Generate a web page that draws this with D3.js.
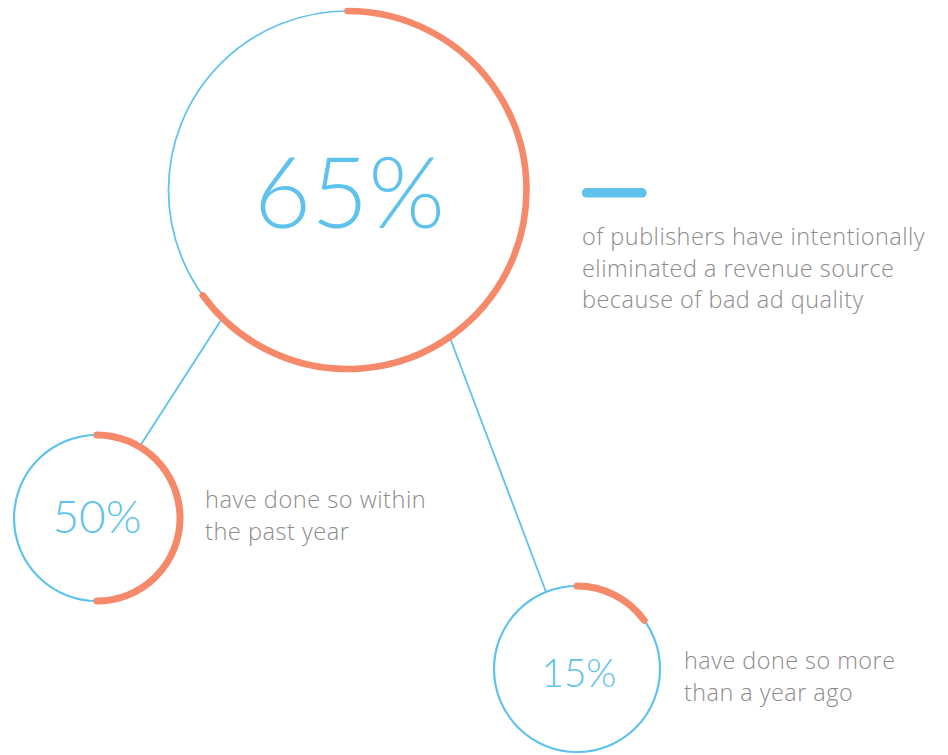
<!DOCTYPE html>
<html>
<head>
<meta charset="utf-8">
<script src="https://cdn.jsdelivr.net/npm/d3@7"></script>
<style>
  html, body { margin: 0; padding: 0; background: #fff; }
  svg { display: block; }
</style>
</head>
<body>
<svg id="chart" width="948" height="755"></svg>
<script>
// Shares of publishers who dropped a revenue source over ad quality
const labels = ["65%", "50%", "15%"];
const values = [65, 50, 15];
const captions = [
  ["of publishers have intentionally", "eliminated a revenue source", "because of bad ad quality"],
  ["have done so within", "the past year"],
  ["have done so more", "than a year ago"]
];

const BLUE = "#5fc2ec";
const ORANGE = "#f5896a";
const GREY = "#8c8c8c";
const NUM_FONT = "Lato, 'Open Sans', sans-serif";
const TXT_FONT = "'Open Sans', Lato, sans-serif";

const svg = d3.select("#chart");

// Gauge layout: centre, radius, stroke widths, number width and baseline
const gauges = [
  { cx: 347.5, cy: 190, r: 179, ring: 1.7, arc: 6.6, w: 191, base: 228, x: 349.5 },
  { cx: 97,    cy: 518, r: 83,  ring: 2.2, arc: 7,   w: 89,  base: 533, x: 97 },
  { cx: 577,   cy: 669, r: 83,  ring: 2.2, arc: 7,   w: 75,  base: 687, x: 579 }
];

// Percent -> angle (clockwise from 12 o'clock)
const angle = d3.scaleLinear().domain([0, 100]).range([0, 2 * Math.PI]);

function pointAt(g, deg) {
  const a = deg * Math.PI / 180;
  return [g.cx + g.r * Math.sin(a), g.cy - g.r * Math.cos(a)];
}

// Scale a text element's font size so its width hits a target
function fitWidth(sel, target) {
  const node = sel.node();
  const fs = parseFloat(sel.attr("font-size"));
  const w = node.getComputedTextLength();
  sel.attr("font-size", fs * target / w);
}

// Connector lines between the main ring and the two detail rings
const links = [
  { from: 0, fromDeg: 224.3, to: 1, toDeg: 30.8 },
  { from: 0, fromDeg: 145.2, to: 2, toDeg: -21.9 }
];
svg.append("g").selectAll("line").data(links).join("line")
  .attr("x1", d => pointAt(gauges[d.from], d.fromDeg)[0])
  .attr("y1", d => pointAt(gauges[d.from], d.fromDeg)[1])
  .attr("x2", d => pointAt(gauges[d.to], d.toDeg)[0])
  .attr("y2", d => pointAt(gauges[d.to], d.toDeg)[1])
  .attr("stroke", BLUE)
  .attr("stroke-width", 1.8);

const rings = svg.append("g").selectAll("g").data(values).join("g")
  .attr("transform", (d, i) => `translate(${gauges[i].cx},${gauges[i].cy})`);

rings.append("circle")
  .attr("r", (d, i) => gauges[i].r)
  .attr("fill", "none")
  .attr("stroke", BLUE)
  .attr("stroke-width", (d, i) => gauges[i].ring);

rings.append("path")
  .attr("d", (d, i) => {
    const p = d3.path();
    p.arc(0, 0, gauges[i].r, -Math.PI / 2, -Math.PI / 2 + angle(d));
    return p.toString();
  })
  .attr("fill", "none")
  .attr("stroke", ORANGE)
  .attr("stroke-width", (d, i) => gauges[i].arc)
  .attr("stroke-linecap", "round");

rings.append("text")
  .text((d, i) => labels[i])
  .attr("x", (d, i) => gauges[i].x - gauges[i].cx)
  .attr("y", (d, i) => gauges[i].base - gauges[i].cy)
  .attr("text-anchor", "middle")
  .attr("font-family", NUM_FONT)
  .attr("font-weight", 300)
  .attr("font-size", 50)
  .attr("fill", BLUE)
  .each(function (d, i) { fitWidth(d3.select(this), gauges[i].w); });

// Accent bar above the main caption
svg.append("line")
  .attr("x1", 586.5).attr("x2", 642)
  .attr("y1", 192.8).attr("y2", 192.8)
  .attr("stroke", BLUE)
  .attr("stroke-width", 9.5)
  .attr("stroke-linecap", "round");

// Captions: position and width of the first line
const captionPos = [
  { x: 582, y: 245, lh: 31.5, w: 346 },
  { x: 205, y: 508, lh: 31.5, w: 223 },
  { x: 684, y: 669, lh: 31.5, w: 213 }
];
captions.forEach((lines, i) => {
  const t = svg.append("text")
    .attr("font-family", TXT_FONT)
    .attr("font-weight", 300)
    .attr("font-size", 20)
    .attr("fill", GREY)
    .attr("letter-spacing", 0.5);
  // size from the first line, then lay out all lines
  const probe = svg.append("text")
    .attr("font-family", TXT_FONT)
    .attr("font-weight", 300)
    .attr("font-size", 20)
    .attr("letter-spacing", 0.5)
    .text(lines[0]);
  fitWidth(probe, captionPos[i].w);
  t.attr("font-size", probe.attr("font-size"));
  probe.remove();
  lines.forEach((line, j) => {
    t.append("tspan")
      .attr("x", captionPos[i].x)
      .attr("y", captionPos[i].y + j * captionPos[i].lh)
      .text(line);
  });
});
</script>
</body>
</html>
